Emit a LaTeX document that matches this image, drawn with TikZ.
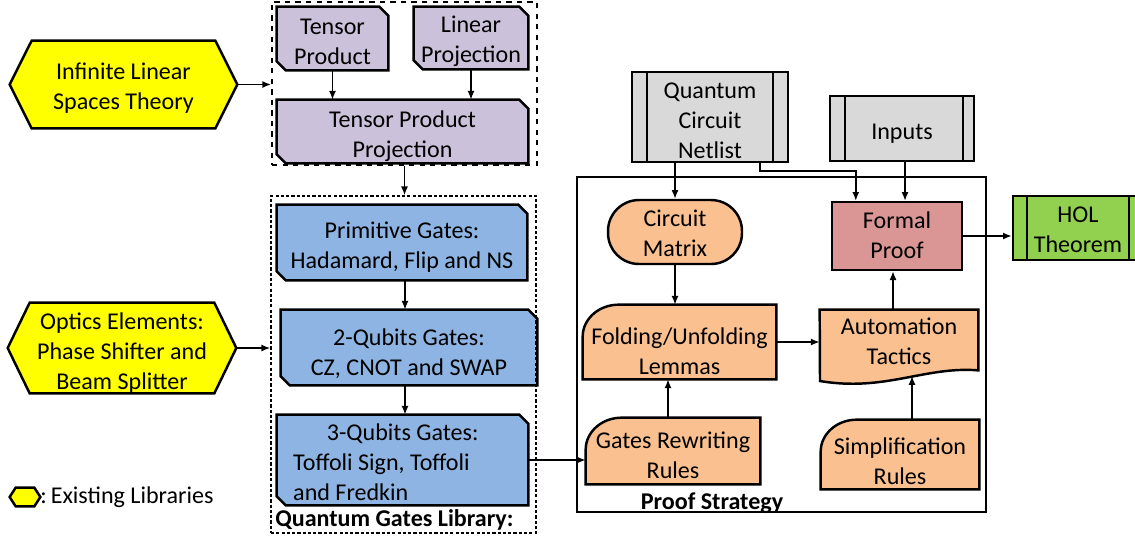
\documentclass[tikz,border=0pt]{standalone}
\usepackage{fontspec}
\setmainfont{Carlito}
\usetikzlibrary{calc,arrows.meta,backgrounds}

\definecolor{libyellow}{HTML}{FFFF00}
\definecolor{thypurple}{HTML}{CCC1DA}
\definecolor{gateblue}{HTML}{8DB4E2}
\definecolor{stratorange}{HTML}{FAC090}
\definecolor{ingray}{HTML}{D9D9D9}
\definecolor{proofred}{HTML}{D99694}
\definecolor{holgreen}{HTML}{92D050}

\tikzset{
  txt/.style={inner sep=0pt, align=center, font=\fontsize{13.7}{17}\selectfont},
  % lines of text, and how far (px) the text sits below the middle
  lines/.code 2 args={\pgfmathsetmacro\txth{(#1-1)*17+8.8+1.134*#2}%
    \pgfkeysalso{text depth=0pt, text height=\txth pt}},
  arr/.style={-{Latex[length=5pt,width=4pt]}, line width=0.85pt},
  outline/.style={draw=black, line width=1.4pt},
}

% yellow hexagon round a node
\newcommand{\hexlib}[2]{%
  \filldraw[fill=libyellow, outline]
    (#1.west) -- ($(#1.north west)+(#2,0)$) -- ($(#1.north east)+(-#2,0)$) -- (#1.east)
    -- ($(#1.south east)+(-#2,0)$) -- ($(#1.south west)+(#2,0)$) -- cycle;}
% box with two cut corners
\newcommand{\cutbox}[2]{%
  \filldraw[fill=#2, outline]
    (#1.north west) -- ($(#1.north east)+(-9,0)$) -- ($(#1.north east)+(0,-9)$)
    -- (#1.south east) -- ($(#1.south west)+(9,0)$) -- ($(#1.south west)+(0,9)$) -- cycle;}
% box with a round top left corner
\newcommand{\roundbox}[1]{%
  \filldraw[fill=stratorange, outline]
    (#1.south west) -- ($(#1.north west)+(0,-0.64cm)$)
    arc[start angle=180, end angle=90, x radius=0.72cm, y radius=0.64cm]
    -- (#1.north east) -- (#1.south east) -- cycle;}
% double bars on the sides
\newcommand{\sidebars}[3]{%
  \draw[line width=1.4pt] ($(#1.north west)+(#2,0)$) -- ($(#1.south west)+(#2,0)$)
    ($(#1.north east)+(-#3,0)$) -- ($(#1.south east)+(-#3,0)$);}

\begin{document}
\begin{tikzpicture}[x=0.02cm, y=0.02cm]
    \useasboundingbox (0,0) rectangle (1135,-539);
    \clip (0,0) rectangle (1135,-539);

    % Libraries on the left
    \node[txt, lines={2}{2}, minimum width=4.54cm, minimum height=1.74cm] (infinite) at (123.5,-84.5) {Infinite Linear\\Spaces Theory};
    \node[txt, lines={3}{4}, minimum width=4.56cm, minimum height=1.8cm] (optics) at (122,-348) {Optics Elements:\\Phase Shifter and\\Beam Splitter};

    % Theory box
    \node[draw, dashed, line width=1.1pt, minimum width=5.3cm, minimum height=3.26cm] (thybox) at (404.5,-83.5) {};
    \node[txt, lines={2}{3}, minimum width=2.22cm, minimum height=1.26cm] (tensorprod) at (332.5,-38.5) {Tensor\\Product};
    \node[txt, lines={2}{2}, minimum width=2.28cm, minimum height=1.24cm] (linproj) at (471,-38) {Linear\\Projection};
    \node[txt, lines={2}{3.5}, minimum width=5.02cm, minimum height=1.26cm] (tpp) at (402.5,-131.5) {Tensor Product\\Projection};

    % Gates library box
    \node[draw, dash pattern=on 1.8pt off 1.2pt, line width=0.9pt, minimum width=5.3cm, minimum height=6.74cm] (gatebox) at (403.5,-364.5) {};
    \node[txt, lines={2}{3.5}, minimum width=5cm, minimum height=1.5cm] (primitive) at (402,-242.5) {Primitive Gates:\\Hadamard, Flip and NS};
    \node[txt, lines={2}{5}, minimum width=5.12cm, minimum height=1.5cm] (twoqubit) at (409,-347.5) {2-Qubits Gates:\\CZ, CNOT and SWAP};
    \node[txt, lines={3}{2.5}, minimum width=5.02cm, minimum height=1.8cm, align=left] (threequbit) at (402.5,-460)
        {\hspace*{1.4em}3-Qubits Gates:\\Toffoli Sign, Toffoli\rule{0.84cm}{0pt}\\and Fredkin};
    \node[txt, anchor=west, font=\fontsize{13.7}{17}\selectfont\bfseries] (gatelabel) at (275,-520) {Quantum Gates Library:};

    % Proof strategy box
    \node[draw, line width=0.85pt, minimum width=8.18cm, minimum height=6.7cm] (proofbox) at (781.5,-344.5) {};
    \node[txt, font=\fontsize{13.7}{17}\selectfont\bfseries] (prooflabel) at (712,-503) {Proof Strategy};
    \node[txt, lines={3}{3.5}, fill=ingray, outline, minimum width=3.12cm, minimum height=1.8cm] (netlist) at (710,-117) {Quantum\\Circuit\\Netlist};
    \node[txt, lines={1}{3.5}, fill=ingray, outline, minimum width=2.88cm, minimum height=1.3cm] (inputs) at (902,-128.5) {Inputs};
    \node[txt, lines={2}{2}, fill=stratorange, outline, rounded corners=0.62cm, minimum width=2.68cm, minimum height=1.28cm] (cmatrix) at (675,-232) {Circuit\\Matrix};
    \node[txt, lines={2}{0}, fill=proofred, outline, minimum width=2.6cm, minimum height=1.36cm] (formal) at (897,-236) {Formal\\Proof};
    \node[txt, lines={2}{2}, fill=holgreen, outline, minimum width=2.6cm, minimum height=1.28cm] (hol) at (1078,-228) {HOL\\Theorem};
    \node[txt, lines={2}{10}, minimum width=3.86cm, minimum height=1.48cm] (folding) at (679.5,-342) {Folding/Unfolding\\Lemmas};
    \node[txt, lines={2}{5}, minimum width=3.48cm, minimum height=1.32cm] (gates) at (673,-451) {Gates Rewriting\\Rules};
    \node[txt, lines={2}{1.5}, minimum width=3.16cm, minimum height=1.2cm] (autom) at (899,-340) {Automation\\Tactics};
    \node[txt, lines={2}{7.5}, minimum width=3.16cm, minimum height=1.38cm] (simp) at (900,-454.5) {Simplification\\Rules};

    \sidebars{netlist}{16}{16}
    \sidebars{inputs}{16}{12}
    \sidebars{hol}{15}{15}

    % Legend
    \node[minimum width=0.6cm, minimum height=0.36cm, inner sep=0pt] (legendhex) at (25,-497) {};
    \node[txt, anchor=west] (legendtxt) at (40,-497) {:\,Existing Libraries};

    % Shapes behind the texts
    \begin{scope}[on background layer]
        \hexlib{infinite}{22}
        \hexlib{optics}{22}
        \hexlib{legendhex}{6}
        \cutbox{tensorprod}{thypurple}
        \cutbox{linproj}{thypurple}
        \cutbox{tpp}{thypurple}
        \cutbox{primitive}{gateblue}
        \cutbox{twoqubit}{gateblue}
        \cutbox{threequbit}{gateblue}
        \roundbox{folding}
        \roundbox{gates}
        \roundbox{simp}
        \filldraw[fill=stratorange, outline] (autom.north west) -- (autom.north east) -- (autom.south east)
            .. controls (925,-366) and (885,-392) .. (820,-381) -- cycle;
    \end{scope}
    \coordinate (wave) at (912,-376);

    % Connectors
    \draw[arr] (infinite.east) -- (infinite.east -| thybox.west);
    \draw[arr] (optics.east) -- (optics.east -| gatebox.west);
    \draw[arr] (tensorprod.south) -- (tensorprod.south |- tpp.north);
    \draw[arr] (linproj.south) -- (linproj.south |- tpp.north);
    \draw[arr] (thybox.south) -- (thybox.south |- gatebox.north);
    \draw[arr] ($(primitive.south)+(3,0)$) -- ($(primitive.south |- twoqubit.north)+(3,0)$);
    \draw[arr] ($(primitive.south |- twoqubit.south)+(3,0)$) -- ($(primitive.south |- threequbit.north)+(3,0)$);
    \draw[arr] (threequbit.east) -- (threequbit.east -| gates.west);
    \draw[arr] (netlist.south -| cmatrix.north) -- (cmatrix.north);
    \draw[arr] ($(netlist.south east)+(-29,0)$) -- ++(0,-8) -| ($(formal.north west)+(25,0)$);
    \draw[arr] ($(inputs.south)+(3,0)$) -- ($(inputs.south |- formal.north)+(3,0)$);
    \draw[arr, line width=1.4pt] (formal.east) -- (formal.east -| hol.west);
    \draw[arr] (cmatrix.south) -- (cmatrix.south |- folding.north);
    \draw[arr] ($(gates.north)+(-5,0)$) -- ($(gates.north |- folding.south)+(-5,0)$);
    \draw[arr] (folding.east) -- (folding.east -| autom.west);
    \draw[arr] ($(formal.south |- autom.north)+(-4,0)$) -- ($(formal.south)+(-4,0)$);
    \draw[arr] (simp.north -| wave) -- (wave);

\end{tikzpicture}
\end{document}
